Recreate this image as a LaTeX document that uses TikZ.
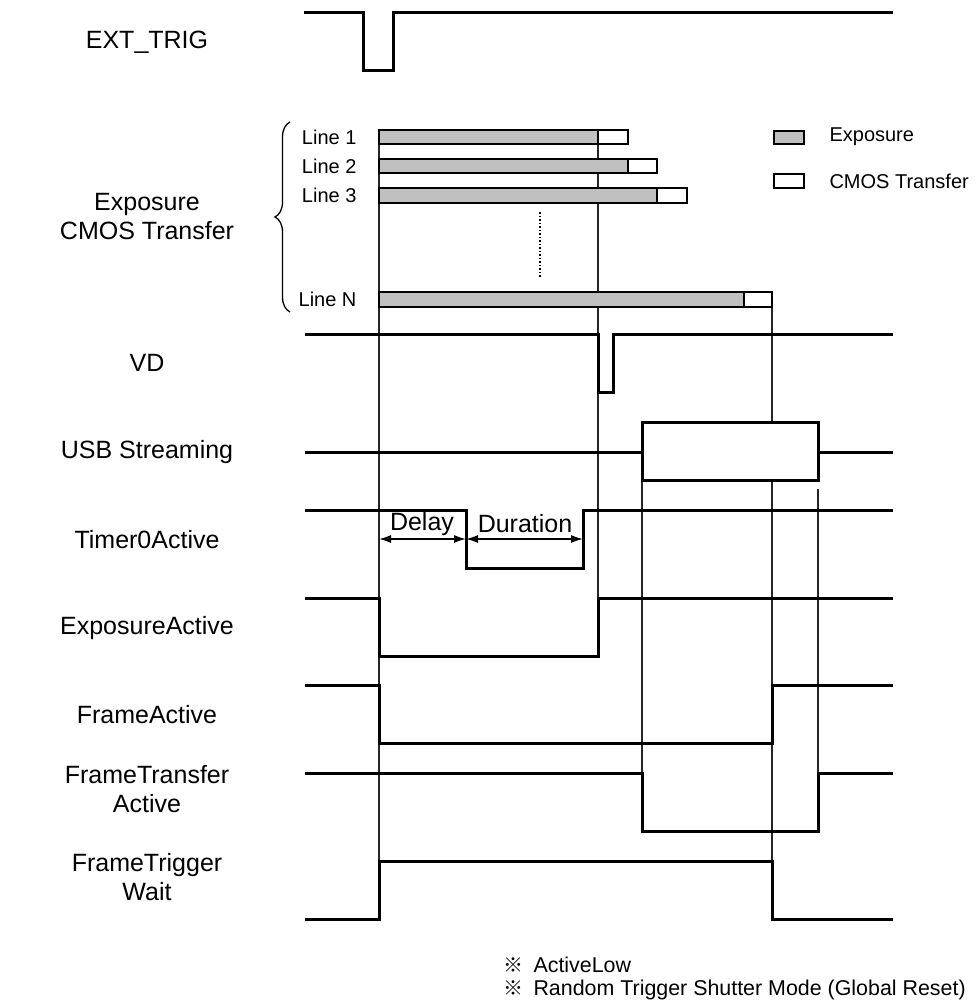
\documentclass[tikz,border=0pt]{standalone}
\usepackage{fontspec}
\setmainfont{Liberation Sans}
\newfontfamily\cjkfont{Noto Sans CJK JP}
\usetikzlibrary{arrows.meta,decorations.pathreplacing}
\definecolor{expgray}{RGB}{192,192,192}
\begin{document}
\begin{tikzpicture}[x=1pt,y=-1pt,
  sig/.style={line width=3pt, line join=miter},
  guide/.style={line width=1.3pt, black!85},
  bar/.style={draw, line width=1.6pt},
  expbar/.style={bar, fill=expgray},
  cmosbar/.style={bar, fill=white},
  siglabel/.style={font=\fontsize{25}{29}\selectfont, align=center},
  linelabel/.style={font=\fontsize{20}{22}\selectfont, anchor=east},
  legendtext/.style={font=\fontsize{20}{22}\selectfont, anchor=west},
  note/.style={font=\fontsize{21.4}{24}\selectfont, anchor=base west},
  dim/.style={line width=1.5pt, {Latex[length=12pt,width=8pt]}-{Latex[length=12pt,width=8pt]}},
]
\useasboundingbox (0,0) rectangle (976,1006);

% guide lines
\draw[guide] (379,130) -- (379,919);
\draw[guide] (598,130) -- (598,656);
\draw[guide] (772,292) -- (772,919);
\draw[guide] (642,480) -- (642,831);
\draw[guide] (818,489) -- (818,831);

% exposure / CMOS transfer bars
\draw[expbar] (379,130) rectangle (598,144);
\draw[cmosbar] (598,130) rectangle (628,144);
\draw[expbar] (379,159) rectangle (628,173);
\draw[cmosbar] (628,159) rectangle (657,173);
\draw[expbar] (379,188) rectangle (657,203);
\draw[cmosbar] (657,188) rectangle (687,203);
\draw[expbar] (379,292) rectangle (744,307);
\draw[cmosbar] (744,292) rectangle (772,307);
\draw[line width=1.5pt, dotted] (540,212) -- (540,278);

\node[linelabel] (l1) at (360,137) {Line 1};
\node[linelabel] (l2) at (360,166) {Line 2};
\node[linelabel] (l3) at (360,195) {Line 3};
\node[linelabel] (lN) at (360,299) {Line N};

% brace
\draw[line width=1.3pt, decorate, decoration={brace, amplitude=15pt}] (290,312) -- (290,122);

% legend
\draw[expbar, line width=1.3pt] (774,131) rectangle (804,144);
\draw[cmosbar, line width=1.3pt] (774,174) rectangle (804,188);
\node[legendtext] (lgexp) at (826,137) {Exposure};
\node[legendtext] (lgcmos) at (826,181) {CMOS Transfer};

% signal labels
\node[siglabel] (nExt) at (147,42) {EXT\_TRIG};
\node[siglabel] (nExp) at (147,217) {Exposure\\CMOS Transfer};
\node[siglabel] (nVD) at (147,363) {VD};
\node[siglabel] (nUSB) at (147,452) {USB Streaming};
\node[siglabel] (nT0) at (147,540) {Timer0Active};
\node[siglabel] (nEA) at (147,628) {ExposureActive};
\node[siglabel] (nFA) at (147,715) {FrameActive};
\node[siglabel] (nFTA) at (147,789) {FrameTransfer\\Active};
\node[siglabel] (nFTW) at (147,877) {FrameTrigger\\Wait};

% waveforms
\draw[sig] (304,13) -| (363,71) -| (393,13) -- (893,13);
\draw[sig] (305,334) -| (598,392) -| (613,334) -- (893,334);
\draw[sig] (305,452) -- (642,452);
\draw[sig, fill=white] (642,422) rectangle (818,480);
\draw[sig] (818,452) -- (893,452);
\draw[sig] (305,510) -| (466,568) -| (583,510) -- (893,510);
\draw[sig] (305,598) -| (379,656) -| (598,598) -- (893,598);
\draw[sig] (305,685) -| (379,743) -| (772,685) -- (893,685);
\draw[sig] (305,773) -| (642,831) -| (818,773) -- (893,773);
\draw[sig] (305,919) -| (379,861) -| (772,919) -- (893,919);

% delay / duration
\coordinate (dA) at (379,539);
\coordinate (dB) at (466,539);
\coordinate (dC) at (583,539);
\draw[dim] (dA) -- (dB);
\draw[dim] (dB) -- (dC);
\node[siglabel] (tDelay) at (422,524) {Delay};
\node[siglabel] (tDur) at (525,524) {Duration};

% notes
\node[note] (n1) at (530,972) {ActiveLow};
\node[note] (n2) at (530,995) {Random Trigger Shutter Mode (Global Reset)};
\node[font=\cjkfont\fontsize{20}{22}\selectfont, anchor=base east] (m1) at (527,972) {※};
\node[font=\cjkfont\fontsize{20}{22}\selectfont, anchor=base east] (m2) at (527,995) {※};
\end{tikzpicture}
\end{document}
